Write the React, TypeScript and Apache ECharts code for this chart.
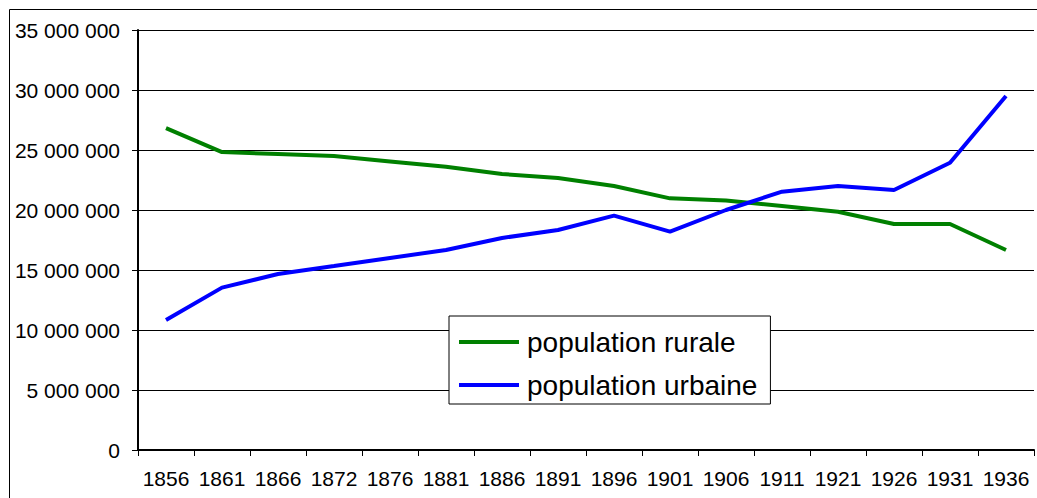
import React, { useEffect, useRef } from "react";
import * as echarts from "echarts";

const years = ["1856", "1861", "1866", "1872", "1876", "1881", "1886", "1891", "1896", "1901", "1906", "1911", "1921", "1926", "1931", "1936"];
const rurale = [26830000, 24830000, 24670000, 24500000, 24050000, 23600000, 23000000, 22670000, 22000000, 20970000, 20800000, 20330000, 19860000, 18830000, 18830000, 16670000];
const urbaine = [10830000, 13530000, 14670000, 15330000, 16000000, 16670000, 17670000, 18330000, 19530000, 18200000, 20000000, 21530000, 22000000, 21670000, 23940000, 29500000];
const yTicksMax = 35000000;
const yTickStep = 5000000;

const FONT = "'Liberation Sans', Arial, sans-serif";

function fmt(v: number): string {
  return String(Math.round(v)).replace(/\B(?=(\d{3})+(?!\d))/g, " ");
}

export default function App() {
  const ref = useRef<HTMLDivElement>(null);
  useEffect(() => {
    if (!ref.current) return;
    const chart = echarts.init(ref.current, undefined, { renderer: "svg" });
    chart.setOption({
      animation: false,
      backgroundColor: "#ffffff",
      textStyle: { fontFamily: FONT },
      grid: { left: 138, top: 30, right: 3, bottom: 48, containLabel: false },
      graphic: [
        {
          type: "rect",
          shape: { x: 9.5, y: 9.5, width: 1100, height: 600 },
          style: { fill: "none", stroke: "#000", lineWidth: 1 },
          silent: true,
          z: 0,
        },
      ],
      legend: {
        orient: "vertical",
        left: 449,
        top: 316,
        padding: [11, 13, 4, 10],
        icon: "rect",
        itemWidth: 60,
        itemHeight: 4,
        itemGap: 13,
        backgroundColor: "#ffffff",
        borderColor: "#000000",
        borderWidth: 1,
        textStyle: { fontFamily: FONT, fontSize: 28, color: "#000", lineHeight: 30, padding: [0, 0, 0, 3] },
        data: ["population rurale", "population urbaine"],
      },
      xAxis: {
        type: "category",
        data: years,
        boundaryGap: true,
        axisLine: { lineStyle: { color: "#000", width: 2 } },
        axisTick: { show: true, interval: 0, length: 6, lineStyle: { color: "#000", width: 1 } },
        axisLabel: { interval: 0, margin: 18, fontFamily: FONT, fontSize: 21, color: "#000" },
        splitLine: { show: false },
      },
      yAxis: {
        type: "value",
        min: 0,
        max: yTicksMax,
        interval: yTickStep,
        axisLine: { show: true, lineStyle: { color: "#000", width: 2 } },
        axisTick: { show: true, length: 6, lineStyle: { color: "#000", width: 1 } },
        axisLabel: { margin: 18, fontFamily: FONT, fontSize: 21, color: "#000", formatter: (v: number) => fmt(v) },
        splitLine: { show: true, lineStyle: { color: "#000", width: 1 } },
      },
      series: [
        {
          name: "population rurale",
          type: "line",
          data: rurale,
          symbol: "none",
          lineStyle: { color: "#008000", width: 4 },
          itemStyle: { color: "#008000" },
        },
        {
          name: "population urbaine",
          type: "line",
          data: urbaine,
          symbol: "none",
          lineStyle: { color: "#0000ff", width: 4 },
          itemStyle: { color: "#0000ff" },
        },
      ],
    });
    return () => chart.dispose();
  }, []);
  return <div ref={ref} style={{ position: "absolute", left: 0, top: 0, width: 1037, height: 498 }} />;
}
